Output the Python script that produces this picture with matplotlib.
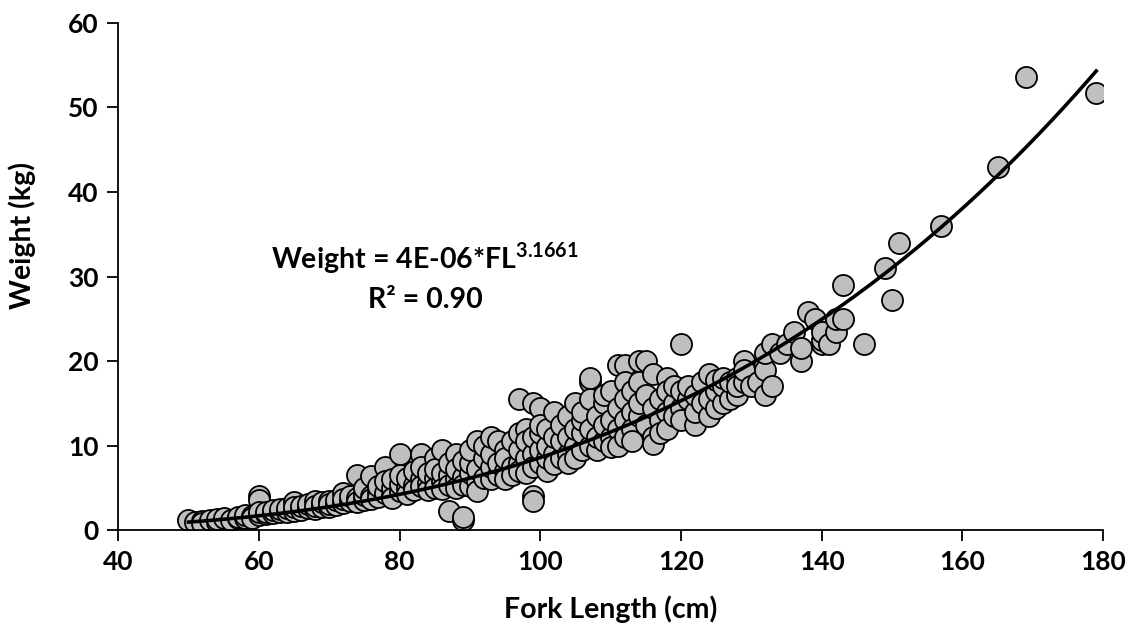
import matplotlib
matplotlib.use("Agg")
import matplotlib.pyplot as plt
import numpy as np

# fork length (cm) and weight (kg)
fork_length = [
    50, 51, 52, 52, 53, 54, 54, 55, 56, 57, 57, 58, 58, 59, 59,
    60, 60, 60, 60, 61, 61, 62, 62, 63, 63, 64, 64, 65, 65, 65, 66, 66, 67, 67, 68, 68, 68, 69, 69, 69,
    70, 70, 70, 71, 71, 72, 72, 72, 73, 73, 74, 74, 74, 75, 75, 75, 76, 76, 76, 77, 77, 77, 78, 78, 78,
    79, 79, 79, 79,
    80, 80, 80, 80, 81, 81, 81, 82, 82, 82, 83, 83, 83, 83, 84, 84, 84, 85, 85, 85, 85, 86, 86, 86, 86,
    87, 87, 87, 87, 88, 88, 88, 88, 89, 89, 89, 89, 89,
    90, 90, 90, 90, 91, 91, 91, 91, 92, 92, 92, 93, 93, 93, 93, 94, 94, 94, 95, 95, 95, 95, 96, 96, 96,
    97, 97, 97, 97, 97, 98, 98, 98, 98, 99, 99, 99, 99, 99, 99,
    100, 100, 100, 100, 100, 101, 101, 101, 101, 102, 102, 102, 102, 103, 103, 103, 104, 104, 104, 104,
    105, 105, 105, 105, 106, 106, 106, 106, 107, 107, 107, 107, 107, 108, 108, 108, 109, 109, 109, 109,
    110, 110, 110, 110, 111, 111, 111, 111, 112, 112, 112, 112, 112, 113, 113, 113, 113, 114, 114, 114, 114,
    115, 115, 115, 116, 116, 116, 116, 117, 117, 117, 118, 118, 118, 118, 119, 119, 119,
    120, 120, 120, 120, 121, 121, 122, 122, 122, 123, 123, 124, 124, 124, 125, 125, 125, 126, 126, 126,
    127, 127, 128, 128, 128, 129, 129, 129, 130,
    131, 132, 132, 132, 133, 133, 134, 135, 136, 137, 137, 138, 139, 140, 140, 140, 141, 142, 142, 143, 143, 146,
    149, 150, 151, 157, 165, 169, 179,
]
weight = [
    1.2, 1.0, 1.1, 0.9, 1.2, 1.0, 1.3, 1.5, 1.2, 1.4, 1.6, 1.5, 1.8, 1.7, 1.5,
    4.1, 3.6, 1.8, 2.1, 1.9, 2.2, 2.0, 2.4, 2.1, 2.5, 2.2, 2.6, 3.3, 2.3, 2.7, 2.4, 2.9, 2.6, 3.1, 3.4, 2.5, 2.9, 3.0, 2.7, 3.3,
    3.5, 2.8, 3.1, 3.0, 3.6, 4.4, 3.2, 3.7, 3.4, 4.0, 6.5, 3.8, 3.3, 3.6, 4.2, 5.0, 6.4, 4.0, 3.7, 4.5, 3.9, 5.2, 7.5, 4.4, 5.8,
    4.2, 5.0, 6.0, 3.8,
    9.0, 4.6, 5.5, 6.5, 5.0, 4.3, 6.2, 5.4, 7.0, 4.7, 9.0, 6.0, 5.2, 7.5, 5.6, 4.8, 6.8, 8.5, 6.2, 5.0, 7.2, 9.5, 5.8, 6.8, 4.9,
    2.3, 6.5, 8.0, 5.3, 9.0, 6.0, 7.2, 5.0, 1.2, 1.6, 6.3, 8.2, 5.4,
    5.2, 6.8, 8.0, 9.5, 5.8, 7.2, 10.5, 4.6, 6.2, 8.5, 10.0, 6.0, 7.5, 9.0, 11.0, 6.5, 8.0, 10.5, 7.0, 6.0, 9.5, 8.5, 7.5, 10.5, 6.5,
    15.5, 8.0, 9.5, 11.5, 7.0, 12.0, 8.5, 10.5, 6.8, 15.0, 4.0, 3.5, 9.0, 11.0, 7.5,
    14.5, 8.0, 9.5, 11.5, 12.5, 7.0, 8.5, 10.0, 12.0, 14.0, 9.0, 11.0, 7.8, 8.5, 10.5, 12.5, 13.5, 9.0, 11.0, 8.0,
    15.0, 10.0, 12.0, 8.5, 9.5, 11.5, 13.0, 14.0, 17.5, 18.0, 10.0, 12.0, 15.5, 9.5, 11.0, 13.5, 10.5, 12.5, 15.0, 16.0,
    11.0, 13.0, 16.5, 9.8, 19.5, 12.0, 14.5, 10.0, 19.5, 17.5, 13.0, 15.5, 11.0, 14.0, 16.5, 12.0, 10.5, 20.0, 17.5, 13.5, 15.0,
    20.0, 12.5, 16.0, 11.0, 14.5, 18.5, 10.2, 13.0, 15.5, 11.5, 18.0, 14.0, 16.5, 12.0, 15.0, 13.5, 17.0,
    22.0, 14.5, 16.5, 13.0, 15.5, 17.0, 12.5, 14.0, 16.0, 15.0, 17.5, 13.5, 15.5, 18.5, 14.5, 16.5, 17.8, 15.0, 17.0, 18.0,
    15.5, 17.5, 16.0, 18.0, 17.0, 20.0, 17.5, 19.0, 17.0,
    17.5, 16.0, 19.0, 21.0, 17.0, 22.0, 21.0, 22.0, 23.5, 20.0, 21.5, 25.8, 25.0, 22.0, 22.5, 23.5, 22.0, 23.5, 25.0, 29.0, 25.0, 22.0,
    31.0, 27.2, 34.0, 36.0, 43.0, 53.6, 51.7,
]

# power trendline shown on the chart: W = a * FL^b
coef_a = 4e-6
coef_b = 3.1661

plt.rcParams['font.family'] = ['Lato', 'DejaVu Sans']
plt.rcParams['font.weight'] = 'bold'
plt.rcParams['mathtext.fontset'] = 'custom'
plt.rcParams['mathtext.bf'] = 'Lato:bold'
plt.rcParams['mathtext.rm'] = 'Lato:bold'

fs_tick = 19
fs_text = 20.5

fig = plt.figure(figsize=(11.35, 6.35), dpi=100)
ax = fig.add_axes([0.104, 0.165, 0.868, 0.799])

ax.scatter(fork_length, weight, s=230, facecolor='#BFBFBF', edgecolor='black',
           linewidth=1.3, zorder=2)

fl_line = np.linspace(min(fork_length), max(fork_length), 300)
ax.plot(fl_line, coef_a * fl_line ** coef_b, color='black', linewidth=2.6, zorder=3)

ax.set_xlim(40, 180)
ax.set_ylim(0, 60)
ax.set_xticks(range(40, 181, 20))
ax.set_yticks(range(0, 61, 10))
ax.tick_params(direction='out', length=8, width=1.3, labelsize=fs_tick, pad=6)
for lbl in ax.get_xticklabels() + ax.get_yticklabels():
    lbl.set_fontweight('bold')
for side in ['top', 'right']:
    ax.spines[side].set_visible(False)
for side in ['left', 'bottom']:
    ax.spines[side].set_linewidth(1.3)

ax.set_xlabel('Fork Length (cm)', fontsize=fs_text, fontweight='bold', labelpad=16)
ax.set_ylabel('Weight (kg)', fontsize=fs_text, fontweight='bold', labelpad=12)
ax.yaxis.set_label_coords(-0.083, 0.58)

ax.text(0.312, 0.536, r'Weight = 4E-06*FL$^{\mathbf{3.1661}}$', transform=ax.transAxes,
        ha='center', va='center', fontsize=fs_text, fontweight='bold')
ax.text(0.312, 0.453, 'R² = 0.90', transform=ax.transAxes,
        ha='center', va='center', fontsize=fs_text, fontweight='bold')

fig.savefig('out.png', dpi=100)
